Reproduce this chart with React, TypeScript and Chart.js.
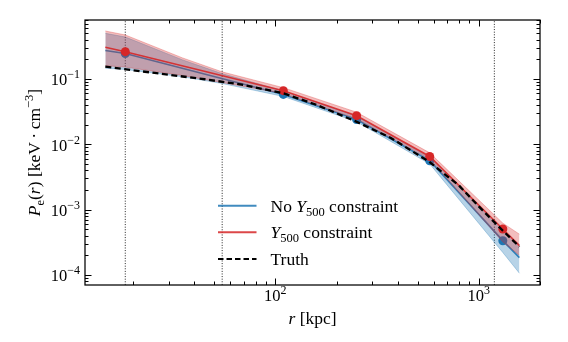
import React, { useEffect, useRef } from "react";
import { Chart, registerables } from "chart.js";

Chart.register(...registerables);

// ---- data ----
const rModel = [14.6, 18.3, 109.5, 251, 574, 1313, 1584];
const redModel = [0.306, 0.262, 0.0662, 0.0274, 0.0065, 5.05e-4, 2.8e-4];
const blueModel = [0.273, 0.246, 0.058, 0.024, 0.0056, 3.35e-4, 1.84e-4];

const rPoints = [18.3, 109.5, 251, 574, 1313];
const redPoints = [0.262, 0.0662, 0.0274, 0.0065, 5.05e-4];
const bluePoints = [0.245, 0.058, 0.024, 0.0056, 3.33e-4];

const rBand = [14.6, 18.3, 35, 55, 109.5, 251, 574, 1313, 1584];
const redUpper = [0.543, 0.472, 0.21, 0.128, 0.0736, 0.031, 0.0074, 6.2e-4, 4.2e-4];
const redLower = [0.16, 0.152, 0.113, 0.088, 0.06, 0.0245, 0.0059, 3.2e-4, 2.0e-4];
const blueUpper = [0.5, 0.44, 0.196, 0.12, 0.066, 0.027, 0.0063, 4.8e-4, 2.9e-4];
const blueLower = [0.146, 0.14, 0.108, 0.085, 0.054, 0.0222, 0.005, 2.2e-4, 1.06e-4];

const rTruth = [14.6, 20, 30, 45, 70, 110, 160, 250, 370, 570, 800, 1000, 1300, 1584];
const truth = [0.154, 0.136, 0.116, 0.099, 0.081, 0.06, 0.04, 0.0222, 0.0125, 0.0054, 0.00233, 0.00112, 0.00049, 0.00027];

const rMarkers = [18.3, 54.8, 1193];

const xMin = 11.6;
const xMax = 2000;
const yMin = 7.03e-5;
const yMax = 0.8;
const xTickExps = [2, 3];
const yTickExps = [-1, -2, -3, -4];

const legendLabels = ["No Y500 constraint", "Y500 constraint", "Truth"];

// ---- styles ----
const BLUE = "#1f77b4";
const RED = "#d62728";
const SERIF = '"Liberation Serif", "Times New Roman", serif';
const F = (size: number, italic = false) => `${italic ? "italic " : ""}${size}px ${SERIF}`;

const pts = (xs: number[], ys: number[]) => xs.map((x, i) => ({ x, y: ys[i] }));

type Run = { t: string; size?: number; italic?: boolean; dy?: number };

function drawRuns(ctx: CanvasRenderingContext2D, runs: Run[], x: number, y: number, align: "left" | "center" | "right", base = 17.5) {
  const widths = runs.map((r) => {
    ctx.font = F(r.size ?? base, r.italic);
    return ctx.measureText(r.t).width;
  });
  const total = widths.reduce((a, b) => a + b, 0);
  let sx = align === "left" ? x : align === "center" ? x - total / 2 : x - total;
  ctx.textAlign = "left";
  ctx.textBaseline = "alphabetic";
  runs.forEach((r, i) => {
    ctx.font = F(r.size ?? base, r.italic);
    ctx.fillText(r.t, sx, y + (r.dy ?? 0));
    sx += widths[i];
  });
}

function logTicks(min: number, max: number) {
  const out: { v: number; major: boolean }[] = [];
  for (let e = Math.floor(Math.log10(min)); e <= Math.ceil(Math.log10(max)); e++) {
    for (let m = 1; m <= 9; m++) {
      const v = m * Math.pow(10, e);
      if (v >= min * 0.999 && v <= max * 1.001) out.push({ v, major: m === 1 });
    }
  }
  return out;
}

const decor = {
  id: "decor",
  afterDraw(chart: any) {
    const { ctx, chartArea: a, scales } = chart;
    const xs = scales.x;
    const ys = scales.y;
    ctx.save();
    ctx.fillStyle = "#000";
    ctx.strokeStyle = "#000";

    // ticks (inward, all four sides)
    ctx.lineWidth = 1;
    for (const t of logTicks(xMin, xMax)) {
      const px = Math.round(xs.getPixelForValue(t.v)) + 0.5;
      const len = t.major ? 6.5 : 3.5;
      ctx.beginPath();
      ctx.moveTo(px, a.bottom);
      ctx.lineTo(px, a.bottom - len);
      ctx.moveTo(px, a.top);
      ctx.lineTo(px, a.top + len);
      ctx.stroke();
    }
    for (const t of logTicks(yMin, yMax)) {
      const py = Math.round(ys.getPixelForValue(t.v)) + 0.5;
      const len = t.major ? 6.5 : 3.5;
      ctx.beginPath();
      ctx.moveTo(a.left, py);
      ctx.lineTo(a.left + len, py);
      ctx.moveTo(a.right, py);
      ctx.lineTo(a.right - len, py);
      ctx.stroke();
    }

    // frame
    ctx.lineWidth = 1.25;
    ctx.strokeRect(a.left, a.top, a.right - a.left, a.bottom - a.top);

    // tick labels
    const pow = (e: number): Run[] => [
      { t: "10", size: 16.5 },
      { t: e < 0 ? "\u2212" + Math.abs(e) : String(e), size: 12, dy: -7 },
    ];
    for (const e of xTickExps) {
      drawRuns(ctx, pow(e), xs.getPixelForValue(Math.pow(10, e)), a.bottom + 16, "center");
    }
    for (const e of yTickExps) {
      drawRuns(ctx, pow(e), a.left - 5, ys.getPixelForValue(Math.pow(10, e)) + 6.5, "right");
    }

    // axis titles
    drawRuns(ctx, [{ t: "r", italic: true }, { t: " [kpc]" }], (a.left + a.right) / 2, 324, "center");
    ctx.save();
    ctx.translate(40, (a.top + a.bottom) / 2);
    ctx.rotate(-Math.PI / 2);
    drawRuns(
      ctx,
      [
        { t: "P", italic: true },
        { t: "e", size: 12.5, dy: 4 },
        { t: "(" },
        { t: "r", italic: true },
        { t: ")" },
        { t: " [keV\u2009\u00b7\u2009cm" },
        { t: "\u22123", size: 12.5, dy: -7 },
        { t: "]" },
      ],
      0,
      0,
      "center"
    );
    ctx.restore();

    // legend
    const rows = [205.7, 232.3, 259];
    const lx0 = 218;
    const lx1 = 256.5;
    const tx = 270.5;
    const styles = [
      { c: BLUE, w: 2, dash: [] as number[] },
      { c: RED, w: 2, dash: [] as number[] },
      { c: "#000", w: 2.2, dash: [5.5, 3] },
    ];
    rows.forEach((y, i) => {
      ctx.save();
      ctx.strokeStyle = styles[i].c;
      ctx.globalAlpha = i < 2 ? 0.85 : 1;
      ctx.lineWidth = styles[i].w;
      ctx.setLineDash(styles[i].dash);
      ctx.beginPath();
      ctx.moveTo(lx0, y);
      ctx.lineTo(lx1, y);
      ctx.stroke();
      ctx.restore();
    });
    const yRun = (label: string): Run[] => {
      const idx = label.indexOf("Y500");
      if (idx < 0) return [{ t: label }];
      return [
        { t: label.slice(0, idx) },
        { t: "Y", italic: true },
        { t: "500", size: 12.5, dy: 4 },
        { t: label.slice(idx + 4) },
      ];
    };
    legendLabels.forEach((lab, i) => {
      drawRuns(ctx, yRun(lab).filter((r) => r.t.length > 0), tx, rows[i] + 6, "left");
    });

    ctx.restore();
  },
};

export default function App() {
  const ref = useRef<HTMLCanvasElement | null>(null);
  useEffect(() => {
    if (!ref.current) return;
    const lineBase = { pointRadius: 0, tension: 0, fill: false } as any;
    const datasets: any[] = [
      // 0: truth (on top)
      { ...lineBase, data: pts(rTruth, truth), borderColor: "#000", borderWidth: 2.3, borderDash: [6, 3.5] },
      // 1: red points
      { data: pts(rPoints, redPoints), showLine: false, pointRadius: 4.5, pointBackgroundColor: RED, pointBorderWidth: 0, borderColor: RED },
      // 2: red line
      { ...lineBase, data: pts(rModel, redModel), borderColor: "rgba(214,39,40,0.9)", borderWidth: 1.6 },
      // 3-4: red band
      { ...lineBase, data: pts(rBand, redUpper), borderColor: "rgba(214,39,40,0.3)", borderWidth: 1, fill: "+1", backgroundColor: "rgba(214,39,40,0.3)" },
      { ...lineBase, data: pts(rBand, redLower), borderColor: "rgba(214,39,40,0.3)", borderWidth: 1 },
      // 5: blue points
      { data: pts(rPoints, bluePoints), showLine: false, pointRadius: 4.5, pointBackgroundColor: BLUE, pointBorderWidth: 0, borderColor: BLUE },
      // 6: blue line
      { ...lineBase, data: pts(rModel, blueModel), borderColor: "rgba(31,119,180,0.9)", borderWidth: 1.6 },
      // 7-8: blue band
      { ...lineBase, data: pts(rBand, blueUpper), borderColor: "rgba(31,119,180,0.3)", borderWidth: 1, fill: "+1", backgroundColor: "rgba(31,119,180,0.32)" },
      { ...lineBase, data: pts(rBand, blueLower), borderColor: "rgba(31,119,180,0.3)", borderWidth: 1 },
      // vertical dotted markers (drawn first)
      ...rMarkers.map((r) => ({
        ...lineBase,
        data: [
          { x: r, y: yMin },
          { x: r, y: yMax },
        ],
        borderColor: "#222",
        borderWidth: 1,
        borderDash: [1, 1.6],
      })),
    ];
    const chart = new Chart(ref.current, {
      type: "line",
      data: { datasets },
      options: {
        responsive: false,
        maintainAspectRatio: false,
        devicePixelRatio: 1,
        animation: false,
        events: [],
        layout: { padding: { left: 85, right: 28, top: 20, bottom: 57 } },
        plugins: { legend: { display: false }, tooltip: { enabled: false }, title: { display: false } },
        scales: {
          x: { type: "logarithmic", min: xMin, max: xMax, display: false },
          y: { type: "logarithmic", min: yMin, max: yMax, display: false },
        },
      } as any,
      plugins: [decor],
    });
    return () => chart.destroy();
  }, []);
  return (
    <div style={{ position: "absolute", left: 0, top: 0, width: 568, height: 342, background: "#fff" }}>
      <canvas ref={ref} width={568} height={342} style={{ display: "block", width: 568, height: 342 }} />
    </div>
  );
}
